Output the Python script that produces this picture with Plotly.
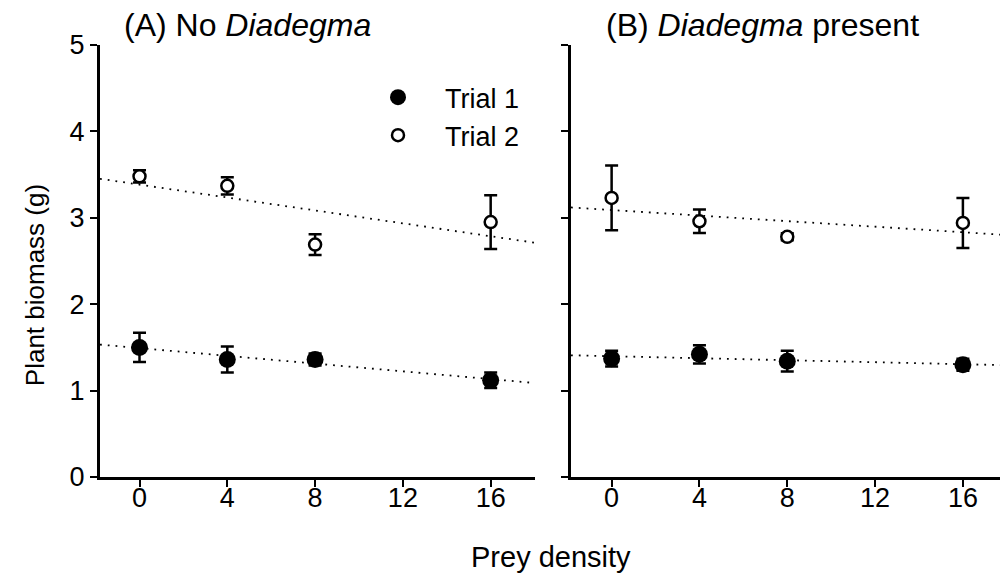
import numpy as np
import plotly.graph_objects as go

# ---- data ----
prey_density = [0, 4, 8, 16]
x_ticks = [0, 4, 8, 12, 16]
y_ticks = [0, 1, 2, 3, 4, 5]

# Panel A: No Diadegma
a_trial1_mean = [1.50, 1.36, 1.36, 1.12]
a_trial1_se = [0.17, 0.15, 0.07, 0.09]
a_trial2_mean = [3.48, 3.37, 2.69, 2.95]
a_trial2_se = [0.07, 0.10, 0.12, 0.31]

# Panel B: Diadegma present
b_trial1_mean = [1.37, 1.42, 1.34, 1.30]
b_trial1_se = [0.09, 0.105, 0.12, 0.07]
b_trial2_mean = [3.23, 2.96, 2.78, 2.94]
b_trial2_se = [0.375, 0.135, 0.04, 0.29]

xrange_a = [-1.8, 18.02]
xrange_b = [-1.85, 17.69]

FONT = "Arial, Liberation Sans, sans-serif"

fig = go.Figure()


def fit_line(xs, ys, xr):
    slope, intercept = np.polyfit(xs, ys, 1)
    xl = np.array(xr)
    return xl, intercept + slope * xl


def add_panel(xaxis, yaxis, t1m, t1e, t2m, t2e, xr, legend):
    for ys in (t1m, t2m):
        xl, yl = fit_line(prey_density, ys, xr)
        fig.add_trace(go.Scatter(
            x=xl, y=yl, mode="lines", xaxis=xaxis, yaxis=yaxis,
            line=dict(color="black", width=1.8, dash="1.8px,6px"),
            showlegend=False, hoverinfo="skip"))
    fig.add_trace(go.Scatter(
        x=prey_density, y=t1m, mode="markers", xaxis=xaxis, yaxis=yaxis,
        name="Trial 1", showlegend=legend,
        marker=dict(symbol="circle", size=17, color="black",
                    line=dict(color="black", width=0)),
        error_y=dict(type="data", array=t1e, visible=True, color="black",
                     thickness=2.5, width=6.5)))
    fig.add_trace(go.Scatter(
        x=prey_density, y=t2m, mode="markers", xaxis=xaxis, yaxis=yaxis,
        name="Trial 2", showlegend=legend,
        marker=dict(symbol="circle", size=12, color="white",
                    line=dict(color="black", width=2.5)),
        error_y=dict(type="data", array=t2e, visible=True, color="black",
                     thickness=2.5, width=6.5)))


add_panel("x", "y", a_trial1_mean, a_trial1_se, a_trial2_mean, a_trial2_se,
          xrange_a, True)
add_panel("x2", "y2", b_trial1_mean, b_trial1_se, b_trial2_mean, b_trial2_se,
          xrange_b, False)

xaxis_common = dict(
    tickmode="array", tickvals=x_ticks, ticktext=[str(v) for v in x_ticks],
    showline=True, linecolor="black", linewidth=3, ticks="outside",
    ticklen=7, tickwidth=2, tickcolor="black", showgrid=False,
    zeroline=False, tickfont=dict(family=FONT, size=27, color="black"),
    ticklabelstandoff=-12, automargin=False)
yaxis_common = dict(
    range=[0, 5], tickmode="array", tickvals=y_ticks,
    ticktext=[str(v) for v in y_ticks],
    showline=True, linecolor="black", linewidth=3, ticks="outside",
    ticklen=7, tickwidth=2, tickcolor="black", showgrid=False,
    zeroline=False, tickfont=dict(family=FONT, size=27, color="black"),
    automargin=False, domain=[0, 1])

fig.update_layout(
    width=1000, height=588,
    margin=dict(l=0, r=0, t=45, b=111),
    paper_bgcolor="white", plot_bgcolor="white",
    font=dict(family=FONT, color="black"),
    xaxis=dict(xaxis_common, domain=[0.100, 0.535], range=xrange_a, anchor="y"),
    xaxis2=dict(xaxis_common, domain=[0.571, 1.0], range=xrange_b, anchor="y2"),
    yaxis=dict(yaxis_common, anchor="x", showticklabels=True),
    yaxis2=dict(yaxis_common, anchor="x2", showticklabels=False),
    legend=dict(x=0.351, y=0.935, xanchor="left", yanchor="top",
                font=dict(family=FONT, size=27, color="black"),
                bgcolor="rgba(0,0,0,0)", itemwidth=84, tracegroupgap=0),
    annotations=[
        dict(text="(A) No <i>Diadegma</i>", x=0.122, y=1.046, xref="paper",
             yref="paper", xanchor="left", yanchor="middle", showarrow=False,
             font=dict(family=FONT, size=32, color="black")),
        dict(text="(B) <i>Diadegma</i> present", x=0.604, y=1.046, xref="paper",
             yref="paper", xanchor="left", yanchor="middle", showarrow=False,
             font=dict(family=FONT, size=32, color="black")),
        dict(text="Plant biomass (g)", x=0.035, y=0.444, xref="paper",
             yref="paper", xanchor="center", yanchor="middle", textangle=-90,
             showarrow=False, font=dict(family=FONT, size=26, color="black")),
        dict(text="Prey density", x=0.551, y=-0.185, xref="paper",
             yref="paper", xanchor="center", yanchor="middle",
             showarrow=False, font=dict(family=FONT, size=29, color="black")),
    ],
)

fig.write_html("out.html")
